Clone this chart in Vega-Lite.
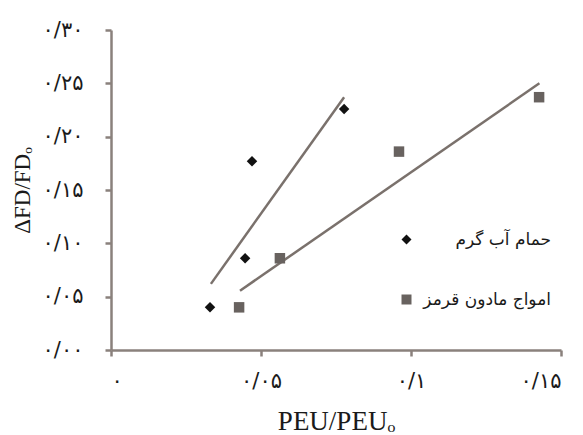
{
  "$schema": "https://vega.github.io/schema/vega-lite/v6.json",
  "width": 450,
  "height": 320,
  "autosize": "none",
  "padding": {"left": 111, "top": 30, "right": 22, "bottom": 85},
  "background": "white",
  "config": {"view": {"stroke": null}},
  "datasets": {
    "points": [
      {"group": "حمام آب گرم", "x": 0.033, "y": 0.040},
      {"group": "حمام آب گرم", "x": 0.0447, "y": 0.086},
      {"group": "حمام آب گرم", "x": 0.047, "y": 0.177},
      {"group": "حمام آب گرم", "x": 0.0777, "y": 0.226},
      {"group": "امواج مادون قرمز", "x": 0.0427, "y": 0.040},
      {"group": "امواج مادون قرمز", "x": 0.0563, "y": 0.086},
      {"group": "امواج مادون قرمز", "x": 0.096, "y": 0.186},
      {"group": "امواج مادون قرمز", "x": 0.1427, "y": 0.237}
    ],
    "fits": [
      {"fit": "a", "x": 0.0333, "y": 0.062},
      {"fit": "a", "x": 0.0777, "y": 0.237},
      {"fit": "b", "x": 0.043, "y": 0.0556},
      {"fit": "b", "x": 0.1428, "y": 0.250}
    ]
  },
  "encoding": {
    "x": {
      "field": "x", "type": "quantitative",
      "scale": {"domain": [0, 0.15], "nice": false, "zero": false},
      "axis": {
        "values": [0, 0.05, 0.1, 0.15],
        "labelExpr": "['۰','۰/۰۵','۰/۱','۰/۱۵'][round(datum.value*20)]",
        "title": "PEU/PEUₒ",
        "titleFont": "Liberation Serif", "titleFontSize": 27, "titleFontWeight": "normal", "titleColor": "#1a1a1a",
        "titlePadding": 17,
        "labelFont": "DejaVu Sans", "labelFontSize": 21, "labelColor": "#1a1a1a", "labelPadding": 14,
        "domainColor": "#8a817c", "domainWidth": 2.5,
        "tickColor": "#8a817c", "tickWidth": 2.5, "tickSize": 6,
        "grid": false
      }
    },
    "y": {
      "field": "y", "type": "quantitative",
      "scale": {"domain": [0, 0.3], "nice": false, "zero": false},
      "axis": {
        "values": [0, 0.05, 0.1, 0.15, 0.2, 0.25, 0.3],
        "labelExpr": "['۰/۰۰','۰/۰۵','۰/۱۰','۰/۱۵','۰/۲۰','۰/۲۵','۰/۳۰'][round(datum.value*20)]",
        "title": "ΔFD/FDₒ",
        "titleFont": "Liberation Serif", "titleFontSize": 23, "titleFontWeight": "normal", "titleColor": "#1a1a1a",
        "titlePadding": 8,
        "labelFont": "DejaVu Sans", "labelFontSize": 21, "labelColor": "#1a1a1a", "labelPadding": 22,
        "domainColor": "#8a817c", "domainWidth": 2.5,
        "tickColor": "#8a817c", "tickWidth": 2.5, "tickSize": 6,
        "grid": false
      }
    }
  },
  "layer": [
    {
      "data": {"name": "fits"},
      "mark": {"type": "line", "color": "#7a716c", "strokeWidth": 2.5},
      "encoding": {"detail": {"field": "fit"}}
    },
    {
      "data": {"name": "points"},
      "mark": {"type": "point", "filled": true, "opacity": 1, "size": 110},
      "encoding": {
        "shape": {
          "field": "group", "type": "nominal",
          "scale": {"domain": ["حمام آب گرم", "امواج مادون قرمز"], "range": ["diamond", "square"]},
          "legend": null
        },
        "color": {
          "field": "group", "type": "nominal",
          "scale": {"domain": ["حمام آب گرم", "امواج مادون قرمز"], "range": ["#111111", "#68625f"]},
          "legend": {
            "title": null,
            "orient": "none",
            "legendX": 287,
            "legendY": 201,
            "symbolType": "diamond",
            "labelFont": "DejaVu Sans",
            "labelFontSize": 17,
            "labelColor": "#1a1a1a",
            "labelLimit": 400,
            "labelAlign": "right",
            "labelOffset": 136,
            "rowPadding": 42,
            "symbolSize": 100
          }
        }
      }
    }
  ]
}
